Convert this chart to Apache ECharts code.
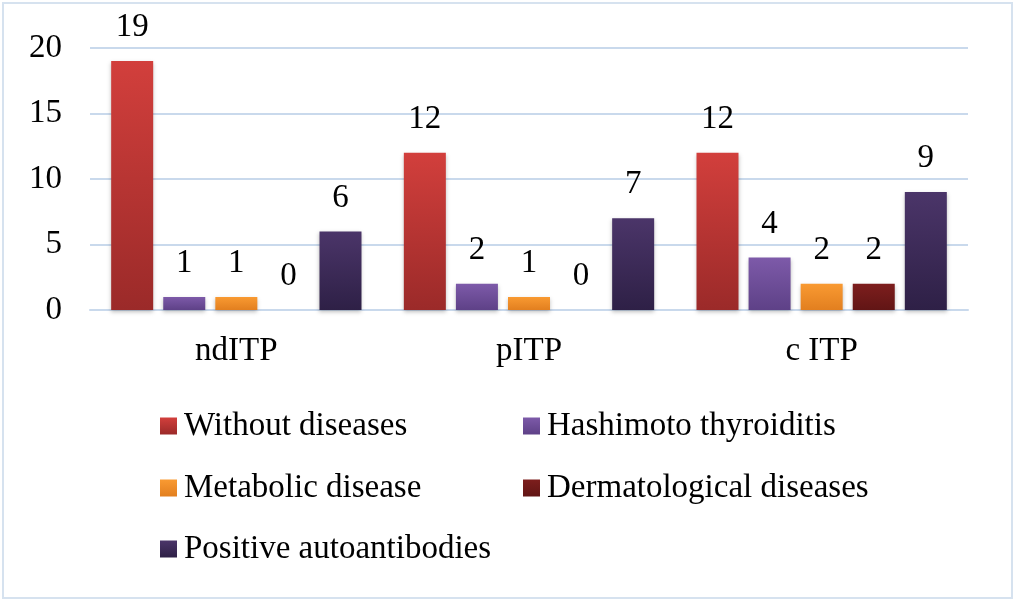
<!DOCTYPE html>
<html>
<head>
<meta charset="utf-8">
<script src="https://cdn.jsdelivr.net/npm/echarts@6/dist/echarts.min.js"></script>
<style>
  html, body { margin: 0; padding: 0; background: #fff; }
  #wrap { position: relative; width: 1016px; height: 601px; }
  #chart { width: 1016px; height: 601px; }
  #frame { position: absolute; left: 2px; top: 2px; width: 1011px; height: 597px;
           border: 2px solid #d6e2ef; pointer-events: none; box-sizing: border-box; }
</style>
</head>
<body>
<div id="wrap">
  <div id="chart"></div>
  <div id="frame"></div>
</div>
<script>
const categories = ['ndITP', 'pITP', 'c ITP'];
const seriesNames = ['Without diseases', 'Hashimoto thyroiditis', 'Metabolic disease', 'Dermatological diseases', 'Positive autoantibodies'];
const withoutDiseases = [19, 12, 12];
const hashimoto = [1, 2, 4];
const metabolic = [1, 1, 2];
const dermatological = [0, 0, 2];
const positiveAutoantibodies = [6, 7, 9];
const yTicks = { min: 0, max: 20, interval: 5 };

const seriesData = [withoutDiseases, hashimoto, metabolic, dermatological, positiveAutoantibodies];
const gradients = [
  ['#d23f3c', '#9b2a29'],
  ['#7d5aa9', '#5e4187'],
  ['#f99a32', '#e27f1f'],
  ['#7d1e1d', '#611515'],
  ['#4b3569', '#2e2046']
];
const FONT = 'Liberation Serif';

const chart = echarts.init(document.getElementById('chart'), null, { renderer: 'canvas' });

const legendPos = [
  { left: 160, top: 409 },
  { left: 523, top: 409 },
  { left: 160, top: 471 },
  { left: 523, top: 471 },
  { left: 160, top: 532 }
];

const option = {
  backgroundColor: '#ffffff',
  animation: false,
  grid: { left: 90, right: 48, top: 48, bottom: 291, containLabel: false },
  legend: seriesNames.map((n, i) => ({
    data: [n],
    left: legendPos[i].left,
    top: legendPos[i].top,
    padding: 0,
    itemWidth: 17,
    itemHeight: 17,
    itemGap: 0,
    icon: 'rect',
    textStyle: { fontFamily: FONT, fontSize: 33, color: '#000', lineHeight: 34, padding: [0, 0, 0, 2] }
  })),
  xAxis: {
    type: 'category',
    data: categories,
    axisLine: { show: true, lineStyle: { color: '#c9d9ec', width: 2 } },
    axisTick: { show: false },
    axisLabel: { fontFamily: FONT, fontSize: 33, color: '#000', margin: 25 }
  },
  yAxis: {
    type: 'value',
    min: yTicks.min,
    max: yTicks.max,
    interval: yTicks.interval,
    axisLine: { show: false },
    axisTick: { show: false },
    splitLine: { lineStyle: { color: '#c9d9ec', width: 2 } },
    axisLabel: { fontFamily: FONT, fontSize: 33, color: '#000', margin: 28 }
  },
  series: seriesNames.map((n, i) => ({
    name: n,
    type: 'bar',
    data: seriesData[i],
    barWidth: 42,
    barGap: '24%',
    itemStyle: {
      color: new echarts.graphic.LinearGradient(0, 0, 0, 1, [
        { offset: 0, color: gradients[i][0] },
        { offset: 1, color: gradients[i][1] }
      ]),
      shadowColor: 'rgba(0,0,0,0.25)',
      shadowBlur: 4,
      shadowOffsetY: 2
    },
    label: {
      show: true,
      position: 'top',
      distance: 17,
      fontFamily: FONT,
      fontSize: 33,
      color: '#000'
    }
  }))
};
chart.setOption(option);
</script>
</body>
</html>
